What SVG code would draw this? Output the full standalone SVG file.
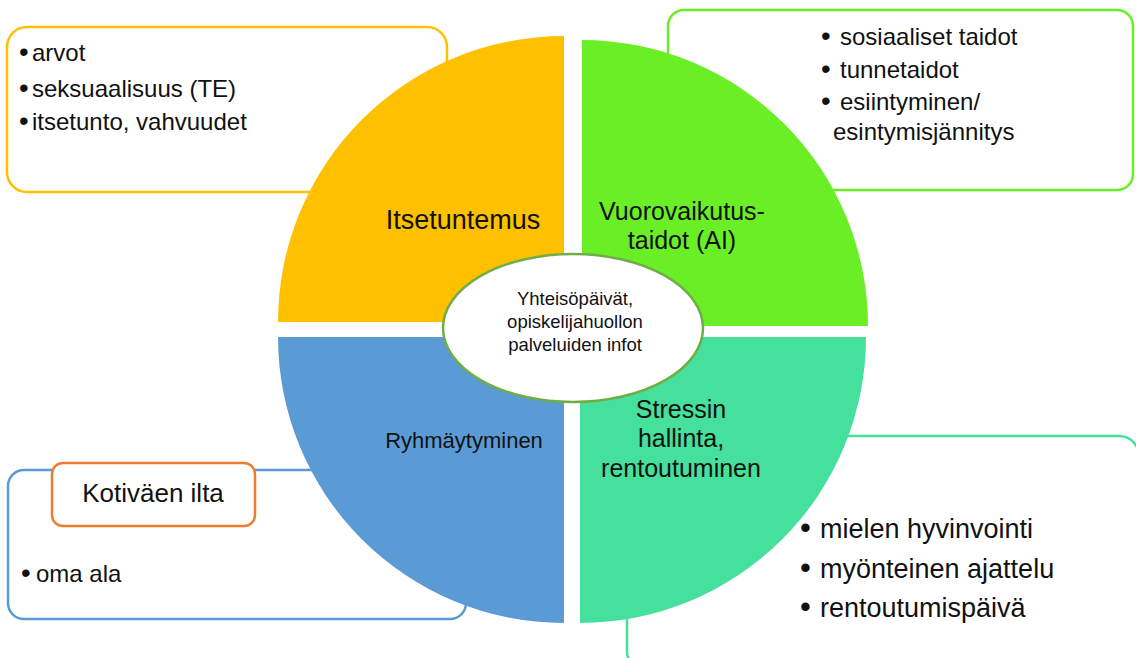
<svg xmlns="http://www.w3.org/2000/svg" width="1136" height="658" viewBox="0 0 1136 658">
<style>
.box{fill:#fff;stroke-width:2.5}
.t{font-family:"Liberation Sans",Arial,sans-serif;fill:#111}
.bl{font-size:24px}
.lab{text-anchor:middle}
.b{font-size:1.15em}
</style>
<rect width="1136" height="658" fill="#fff"/>
<g id="box-itsetuntemus">
<rect class="box" x="7" y="27" width="440" height="165" rx="20" stroke="#FFC000"/>
<text class="t bl" y="61"><tspan class="b" x="19">•</tspan><tspan x="32">arvot</tspan></text>
<text class="t bl" y="97"><tspan class="b" x="19">•</tspan><tspan x="32">seksuaalisuus (TE)</tspan></text>
<text class="t bl" y="130"><tspan class="b" x="19">•</tspan><tspan x="32">itsetunto, vahvuudet</tspan></text>
</g>
<g id="box-vuorovaikutus">
<rect class="box" x="668" y="10" width="465" height="180" rx="16" stroke="#6AEE26"/>
<text class="t bl" y="45"><tspan class="b" x="821">•</tspan><tspan x="840">sosiaaliset taidot</tspan></text>
<text class="t bl" y="78"><tspan class="b" x="821">•</tspan><tspan x="840">tunnetaidot</tspan></text>
<text class="t bl" y="110"><tspan class="b" x="821">•</tspan><tspan x="840">esiintyminen/</tspan></text>
<text class="t bl" x="833" y="140">esintymisjännitys</text>
</g>
<g id="box-ryhmaytyminen">
<rect class="box" x="8" y="470" width="458" height="149" rx="16" stroke="#5B9BD5"/>
<text class="t bl" y="582"><tspan class="b" x="21">•</tspan><tspan x="36">oma ala</tspan></text>
</g>
<g id="box-stressi">
<rect class="box" x="627" y="436" width="512" height="235" rx="20" stroke="#44E09C"/>
<text class="t" font-size="27" y="538"><tspan class="b" x="800">•</tspan><tspan x="820">mielen hyvinvointi</tspan></text>
<text class="t" font-size="27" y="578"><tspan class="b" x="800">•</tspan><tspan x="820">myönteinen ajattelu</tspan></text>
<text class="t" font-size="27" y="617"><tspan class="b" x="800">•</tspan><tspan x="820">rentoutumispäivä</tspan></text>
</g>
<g id="q-itsetuntemus">
<path d="M564,322 L278,322 A286,286 0 0 1 564,36 Z" fill="#FFC000"/>
<text class="t lab" x="463" y="229" font-size="27">Itsetuntemus</text>
</g>
<g id="q-vuorovaikutus">
<path d="M582,326 L582,40 A286,286 0 0 1 868,326 Z" fill="#6AEE26"/>
<text class="t lab" x="682" y="220" font-size="25">Vuorovaikutus-</text>
<text class="t lab" x="682" y="249" font-size="25">taidot (AI)</text>
</g>
<g id="q-ryhmaytyminen">
<path d="M564,337 L564,623 A286,286 0 0 1 278,337 Z" fill="#5B9BD5"/>
<text class="t lab" x="464" y="448" font-size="22">Ryhmäytyminen</text>
</g>
<g id="q-stressi">
<path d="M580,337 L866,337 A286,286 0 0 1 580,623 Z" fill="#44E09C"/>
<text class="t lab" x="681" y="418" font-size="25">Stressin</text>
<text class="t lab" x="681" y="447" font-size="25">hallinta,</text>
<text class="t lab" x="681" y="477" font-size="25">rentoutuminen</text>
</g>
<g id="center">
<ellipse cx="573" cy="328" rx="130" ry="74" fill="#fff" stroke="#70AD47" stroke-width="2.5"/>
<text class="t lab" x="575" y="305" font-size="18.5">Yhteisöpäivät,</text>
<text class="t lab" x="575" y="328" font-size="18.5">opiskelijahuollon</text>
<text class="t lab" x="575" y="351" font-size="18.5">palveluiden infot</text>
</g>
<g id="kotivaen-ilta">
<rect x="52" y="463" width="203" height="63" rx="11" fill="#fff" stroke="#ED7D31" stroke-width="2.5"/>
<text class="t lab" x="153" y="502" font-size="26">Kotiväen ilta</text>
</g>
</svg>
